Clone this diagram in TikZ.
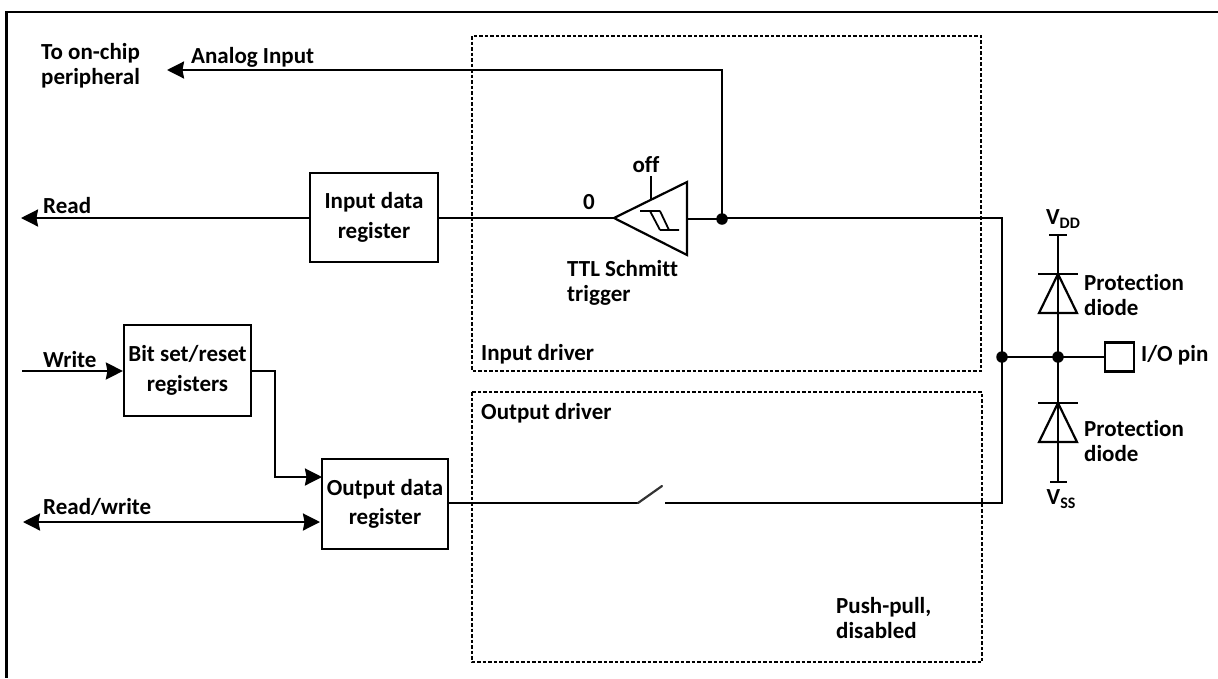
\documentclass[tikz,border=0pt]{standalone}
\usepackage{fontspec}
\setmainfont{Carlito}[BoldFont={Carlito Bold},Ligatures=NoCommon]
\usetikzlibrary{arrows.meta}
\tikzset{
  lbl/.style={inner sep=0pt,anchor=west,align=left,font=\fontsize{23}{25}\selectfont\bfseries},
  ctr/.style={lbl,anchor=center,align=center},
  regbox/.style={draw=black,line width=2.2pt,inner sep=0pt,align=center,font=\fontsize{23}{29.5}\selectfont\bfseries},
  wire/.style={line width=2.2pt,draw=black},
  sym/.style={line width=2.2pt,draw=black,line join=miter},
  frameline/.style={line width=2.6pt,draw=black},
  drv/.style={draw=black,line width=2pt,dash pattern=on 3.5pt off 2pt},
  arr/.style={-{Stealth[length=17pt,width=17pt,inset=1.5pt]}},
  dbl/.style={{Stealth[length=17pt,width=17pt,inset=1.5pt]}-{Stealth[length=17pt,width=17pt,inset=1.5pt]}},
  dot/.style={circle,fill=black,draw=none,minimum size=11.5pt,inner sep=0pt},
}
\begin{document}
\begin{tikzpicture}[x=1pt,y=-1pt]
\useasboundingbox (0,0) rectangle (1218,678);
% frame
\draw[frameline] (1218,12) -- (6.5,12) -- (6.5,678);
% driver boxes
\draw[drv] (472,36) rectangle (981,371);
\draw[drv] (472,392) rectangle (982,662);
% register boxes
\node[regbox,minimum width=128pt,minimum height=89pt] (inreg) at (374,217.5) {Input data\\register};
\node[regbox,minimum width=127pt,minimum height=91pt] (bitreg) at (187.5,370.5) {Bit set/reset\\registers};
\node[regbox,minimum width=126pt,minimum height=90pt] (outreg) at (385,504) {Output data\\register};
\node[regbox,minimum width=29pt,minimum height=29pt] (pin) at (1119.5,357) {};
% junctions
\node[dot] (j1) at (722,219) {};
\node[dot] (j2) at (1002,357) {};
\node[dot] (j3) at (1058,357) {};
% free ends
\coordinate (periph) at (167,70);
\coordinate (readend) at (21,218);
\coordinate (writeend) at (22,371);
\coordinate (rwend) at (23,522);
\coordinate (rwreg) at (320,522);
\coordinate (br1) at (251,371);
\coordinate (or1) at (322,477);
\coordinate (tip) at (614,218);
\coordinate (top) at (687,182);
\coordinate (bot) at (687,255);
\coordinate (tout) at (687,219);
\coordinate (offa) at (651,176);
\coordinate (offb) at (651,200);
\coordinate (swl) at (638,503);
\coordinate (swt) at (662,486);
\coordinate (swr) at (665,503);
\coordinate (cr1) at (1002,218);
\coordinate (cr2) at (1002,503);
\coordinate (vddbar) at (1058,235);
\coordinate (vssbar) at (1058,482);
% connectors
\draw[wire,arr] (j1.center) -- (722,70) -- (periph);
\draw[wire,arr] (inreg.west |- readend) -- (readend);
\draw[wire] (inreg.east |- tip) -- (tip);
\draw[wire] (tout) -- (j1.center) -- (722,218) -- (cr1) -- (cr2) -- (swr);
\draw[wire] (outreg.east |- swl) -- (swl);
\draw[wire,line cap=round,draw=black!80] (swl) -- (swt);
\draw[wire,arr] (writeend) -- (bitreg.west |- writeend);
\draw[wire,arr] (bitreg.east |- br1) -- (275,371) -- (275,477) -- (or1);
\draw[wire,dbl] (rwend) -- (rwreg);
\draw[wire] (j2.center) -- (pin.west);
\draw[wire] (vddbar) -- (vssbar);
% Schmitt trigger
\draw[sym] (tip) -- (top) -- (bot) -- cycle;
\draw[wire] (offa) -- (offb);
\draw[line width=1.8pt] (640,211) -- (660,211) (660,230) -- (679,230) (650,211) -- (660,230) (660,211) -- (669,230);
% diodes
\draw[sym] (1038,274) -- (1078,274);
\draw[sym] (1058,274) -- (1039,313) -- (1077,313) -- cycle;
\draw[sym] (1038,403) -- (1078,403);
\draw[sym] (1058,403) -- (1039,442) -- (1077,442) -- cycle;
\draw[sym] (1049,235) -- (1067,235);
\draw[sym] (1050,482) -- (1067,482);
% labels
\node[lbl] (lto) at (41,65.5) {To on-chip\\peripheral};
\node[lbl] (lan) at (191,57) {Analog Input};
\node[lbl] (lread) at (43,206) {Read};
\node[lbl] (lwrite) at (43,360) {Write};
\node[lbl] (lrw) at (43,507) {Read/write};
\node[ctr] (lzero) at (589,202) {0};
\node[ctr] (loff) at (646,165) {off};
\node[lbl] (ltrig) at (567,282.5) {TTL Schmitt\\trigger};
\node[lbl] (lind) at (481,354) {Input driver};
\node[lbl] (loud) at (481,413) {Output driver};
\node[lbl] (lpp) at (836,618) {Push-pull,\\disabled};
\node[lbl] (lp1) at (1084,295.5) {Protection\\diode};
\node[lbl] (lp2) at (1084,441) {Protection\\diode};
\node[lbl] (lio) at (1141,355) {I/O pin};
\node[ctr] (lvdd) at (1063,219) {V\raisebox{-4pt}{\fontsize{16}{16}\selectfont\bfseries DD}};
\node[ctr] (lvss) at (1061,499) {V\raisebox{-4pt}{\fontsize{16}{16}\selectfont\bfseries SS}};
\end{tikzpicture}
\end{document}
